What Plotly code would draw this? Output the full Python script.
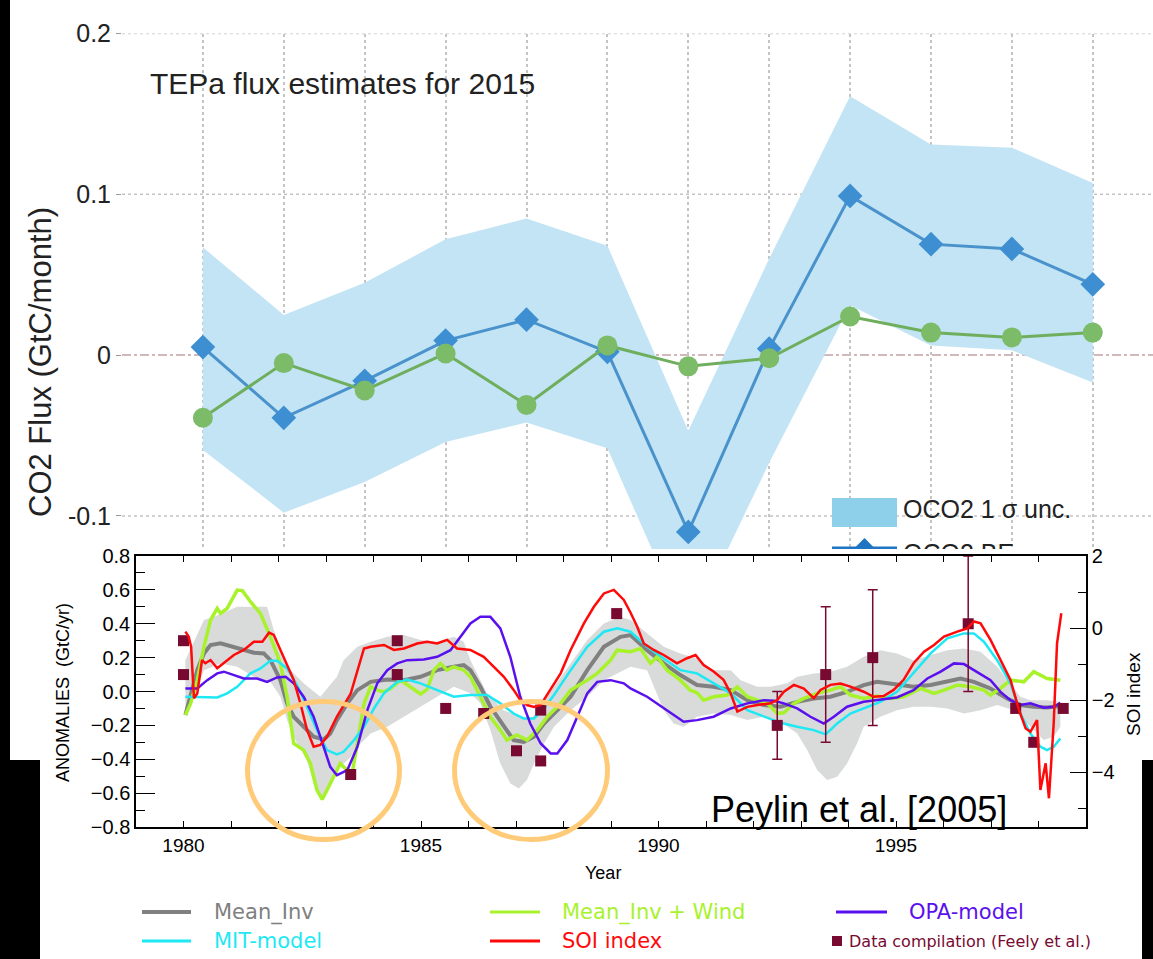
import plotly.graph_objects as go

W, H = 1153, 959

# ---------------- TEPa 2015 monthly flux (GtC/month) ----------------
months = list(range(1, 13))
oco2_be = [0.005, -0.039, -0.016, 0.009, 0.022, 0.002, -0.110, 0.004, 0.099, 0.069, 0.066, 0.044]
oco2_hi = [0.067, 0.025, 0.045, 0.072, 0.085, 0.068, -0.047, 0.060, 0.161, 0.131, 0.129, 0.107]
oco2_lo = [-0.059, -0.098, -0.079, -0.054, -0.042, -0.058, -0.172, -0.067, 0.031, 0.006, 0.003, -0.017]
second_flux = [-0.039, -0.005, -0.022, 0.001, -0.031, 0.006, -0.007, -0.002, 0.024, 0.014, 0.011, 0.014]
top_ticks = [-0.1, 0.0, 0.1, 0.2]
top_ticktext = ["-0.1", "0", "0.1", "0.2"]

# ---------------- Peylin et al. 2005 anomalies (GtC/yr) ----------------
band_hi_year = [1980.04, 1980.43, 1980.64, 1981.13, 1981.76, 1981.90, 1982.18, 1982.53, 1982.88, 1983.23,
                1983.37, 1983.66, 1983.94, 1984.29, 1984.64, 1984.99, 1985.34, 1985.69, 1985.90, 1986.04,
                1986.39, 1986.74, 1987.09, 1987.30, 1987.45, 1987.80, 1988.15, 1988.50, 1988.85, 1989.20,
                1989.41, 1989.76, 1990.11, 1990.46, 1990.81, 1991.16, 1991.52, 1991.73, 1992.08, 1992.36,
                1992.71, 1992.92, 1993.27, 1993.62, 1993.97, 1994.32, 1994.67, 1995.02, 1995.37, 1995.73,
                1996.08, 1996.43, 1996.78, 1997.13, 1997.34, 1997.62, 1997.83, 1998.18, 1998.46]
band_hi = [0.185, 0.422, 0.441, 0.500, 0.500, 0.363, 0.146, 0.048, -0.031, 0.087,
           0.185, 0.264, 0.294, 0.323, 0.333, 0.304, 0.294, 0.323, 0.294, 0.185,
           -0.011, -0.110, -0.149, -0.169, -0.110, 0.028, 0.166, 0.304, 0.402, 0.441,
           0.422, 0.343, 0.264, 0.225, 0.195, 0.126, 0.126, 0.067, 0.028, 0.028,
           0.048, 0.087, 0.107, 0.117, 0.146, 0.205, 0.244, 0.225, 0.185, 0.215,
           0.244, 0.254, 0.235, 0.146, 0.067, -0.031, -0.051, -0.051, -0.061]
band_lo_year = [1980.04, 1980.22, 1980.43, 1980.78, 1981.13, 1981.48, 1981.83, 1982.04, 1982.18, 1982.39,
                1982.60, 1982.74, 1982.92, 1983.09, 1983.30, 1983.52, 1983.73, 1983.94, 1984.29, 1984.64,
                1984.99, 1985.34, 1985.69, 1986.04, 1986.25, 1986.46, 1986.67, 1986.88, 1987.06, 1987.23,
                1987.38, 1987.59, 1987.80, 1988.15, 1988.50, 1988.85, 1989.41, 1989.76, 1990.11, 1990.32,
                1990.53, 1990.81, 1991.16, 1991.52, 1991.87, 1992.22, 1992.57, 1992.92, 1993.13, 1993.34,
                1993.55, 1993.76, 1993.97, 1994.18, 1994.32, 1994.67, 1995.02, 1995.37, 1995.73, 1996.08,
                1996.43, 1996.78, 1997.13, 1997.48, 1997.83, 1998.11, 1998.32, 1998.46]
band_lo = [-0.130, -0.031, 0.126, 0.166, 0.146, 0.087, 0.057, -0.031, -0.169, -0.307,
           -0.405, -0.543, -0.631, -0.543, -0.445, -0.386, -0.307, -0.248, -0.208, -0.149,
           -0.090, -0.031, 0.028, -0.011, -0.070, -0.228, -0.425, -0.543, -0.572, -0.523,
           -0.425, -0.307, -0.208, -0.110, -0.031, 0.067, 0.146, 0.126, -0.110, -0.189,
           -0.208, -0.149, -0.130, -0.139, -0.169, -0.149, -0.179, -0.248, -0.346, -0.464,
           -0.523, -0.503, -0.425, -0.307, -0.208, -0.149, -0.110, -0.090, -0.090, -0.100,
           -0.130, -0.110, -0.080, -0.110, -0.208, -0.287, -0.267, -0.208]

mean_inv_year = [1980.04, 1980.15, 1980.29, 1980.43, 1980.57, 1980.78, 1981.13, 1981.48, 1981.69, 1981.83,
                 1982.04, 1982.18, 1982.32, 1982.53, 1982.74, 1982.95, 1983.09, 1983.23, 1983.45, 1983.66,
                 1983.94, 1984.29, 1984.64, 1984.99, 1985.34, 1985.69, 1985.90, 1986.04, 1986.25, 1986.46,
                 1986.74, 1986.95, 1987.16, 1987.38, 1987.59, 1987.80, 1988.15, 1988.50, 1988.85, 1989.20,
                 1989.41, 1989.76, 1990.11, 1990.46, 1990.81, 1991.16, 1991.52, 1991.87, 1992.22, 1992.57,
                 1992.92, 1993.27, 1993.62, 1993.97, 1994.32, 1994.60, 1995.02, 1995.37, 1995.73, 1996.08,
                 1996.36, 1996.64, 1996.99, 1997.34, 1997.62, 1997.90, 1998.18, 1998.46]
mean_inv = [-0.139, -0.031, 0.126, 0.225, 0.274, 0.284, 0.254, 0.229, 0.225, 0.185,
            0.067, -0.070, -0.149, -0.208, -0.267, -0.283, -0.248, -0.169, -0.070, 0.008,
            0.057, 0.071, 0.067, 0.087, 0.126, 0.146, 0.156, 0.126, 0.028, -0.090,
            -0.208, -0.287, -0.297, -0.267, -0.189, -0.130, -0.031, 0.126, 0.264, 0.323,
            0.333, 0.244, 0.166, 0.097, 0.038, 0.028, 0.008, -0.051, -0.080, -0.090,
            -0.061, -0.041, -0.031, -0.002, 0.038, 0.057, 0.038, 0.028, 0.038, 0.057,
            0.077, 0.057, 0.018, -0.041, -0.080, -0.090, -0.094, -0.086]

wind_year = [1980.04, 1980.15, 1980.29, 1980.43, 1980.57, 1980.71, 1980.78, 1980.92, 1981.13, 1981.24,
             1981.41, 1981.62, 1981.83, 1982.04, 1982.18, 1982.32, 1982.53, 1982.67, 1982.81, 1982.92,
             1983.02, 1983.23, 1983.30, 1983.37, 1983.55, 1983.66, 1983.80, 1983.94, 1984.08, 1984.22,
             1984.36, 1984.57, 1984.78, 1984.99, 1985.13, 1985.27, 1985.41, 1985.55, 1985.69, 1985.90,
             1986.04, 1986.25, 1986.46, 1986.67, 1986.81, 1987.02, 1987.23, 1987.45, 1987.66, 1987.94,
             1988.15, 1988.50, 1988.71, 1988.85, 1988.99, 1989.13, 1989.41, 1989.62, 1989.83, 1989.97,
             1990.18, 1990.46, 1990.67, 1990.81, 1990.95, 1991.16, 1991.45, 1991.66, 1991.87, 1992.08,
             1992.29, 1992.50, 1992.64, 1992.85, 1993.06, 1993.34, 1993.62, 1993.83, 1994.04, 1994.32,
             1994.60, 1994.88, 1995.16, 1995.52, 1995.80, 1996.01, 1996.29, 1996.57, 1996.85, 1996.99,
             1997.20, 1997.41, 1997.69, 1997.90, 1998.18, 1998.46]
mean_inv_wind = [-0.139, -0.070, 0.067, 0.264, 0.422, 0.491, 0.461, 0.491, 0.599, 0.595,
                 0.530, 0.461, 0.323, 0.166, -0.031, -0.307, -0.346, -0.425, -0.582, -0.637,
                 -0.582, -0.464, -0.425, -0.445, -0.484, -0.307, -0.070, 0.028, 0.008, -0.002,
                 0.018, 0.067, 0.028, -0.015, 0.012, 0.126, 0.166, 0.126, 0.146, 0.126,
                 0.087, -0.031, -0.149, -0.228, -0.287, -0.257, -0.287, -0.228, -0.149, -0.070,
                 0.008, 0.067, 0.107, 0.146, 0.185, 0.244, 0.235, 0.254, 0.166, 0.205,
                 0.126, 0.067, 0.008, -0.007, -0.051, -0.031, -0.021, 0.028, -0.031, -0.051,
                 -0.070, -0.130, -0.126, -0.070, -0.041, -0.011, 0.008, 0.028, -0.021, -0.041,
                 -0.027, -0.041, -0.031, 0.018, -0.011, 0.008, 0.038, 0.028, 0.008, -0.021,
                 0.018, 0.067, 0.057, 0.117, 0.077, 0.067]

mit_year = [1980.04, 1980.43, 1980.71, 1980.92, 1981.13, 1981.41, 1981.62, 1981.83, 1981.97, 1982.18,
            1982.39, 1982.60, 1982.81, 1983.02, 1983.23, 1983.37, 1983.59, 1983.80, 1984.01, 1984.22,
            1984.50, 1984.71, 1984.99, 1985.34, 1985.69, 1986.04, 1986.39, 1986.67, 1986.95, 1987.16,
            1987.38, 1987.59, 1987.80, 1988.15, 1988.50, 1988.85, 1989.13, 1989.41, 1989.76, 1990.11,
            1990.46, 1990.81, 1991.16, 1991.52, 1991.87, 1992.22, 1992.57, 1992.92, 1993.27, 1993.52,
            1993.76, 1994.04, 1994.32, 1994.67, 1995.02, 1995.37, 1995.73, 1996.08, 1996.43, 1996.64,
            1996.85, 1997.13, 1997.41, 1997.62, 1997.83, 1998.04, 1998.18, 1998.32, 1998.46]
mit_model = [-0.031, -0.031, -0.035, -0.011, 0.028, 0.107, 0.136, 0.181, 0.181, 0.136,
             0.038, -0.090, -0.228, -0.346, -0.372, -0.356, -0.287, -0.208, -0.100, -0.011,
             0.057, 0.071, 0.048, 0.008, -0.031, -0.021, -0.021, -0.070, -0.130, -0.159,
             -0.159, -0.100, -0.021, 0.126, 0.264, 0.353, 0.373, 0.353, 0.264, 0.195,
             0.126, 0.107, 0.048, -0.011, -0.110, -0.149, -0.185, -0.208, -0.228, -0.253,
             -0.189, -0.130, -0.100, -0.061, -0.002, 0.107, 0.225, 0.314, 0.343, 0.343,
             0.294, 0.185, 0.048, -0.130, -0.248, -0.326, -0.346, -0.326, -0.277]

opa_year = [1980.04, 1980.29, 1980.50, 1980.71, 1980.85, 1981.06, 1981.27, 1981.55, 1981.76, 1981.97,
            1982.15, 1982.32, 1982.53, 1982.74, 1982.95, 1983.09, 1983.23, 1983.45, 1983.66, 1983.87,
            1984.08, 1984.29, 1984.50, 1984.71, 1985.06, 1985.34, 1985.62, 1985.83, 1986.04, 1986.25,
            1986.46, 1986.67, 1986.88, 1987.09, 1987.30, 1987.52, 1987.73, 1987.87, 1988.08, 1988.29,
            1988.50, 1988.71, 1988.99, 1989.27, 1989.41, 1989.76, 1990.11, 1990.53, 1990.81, 1991.16,
            1991.52, 1991.87, 1992.22, 1992.43, 1992.64, 1992.92, 1993.20, 1993.48, 1993.69, 1993.97,
            1994.32, 1994.67, 1995.02, 1995.37, 1995.66, 1995.94, 1996.22, 1996.43, 1996.71, 1996.99,
            1997.20, 1997.41, 1997.62, 1997.83, 1998.11, 1998.32, 1998.46]
opa_model = [0.018, 0.018, 0.067, 0.107, 0.117, 0.097, 0.077, 0.077, 0.057, 0.083,
             0.087, 0.048, -0.031, -0.149, -0.326, -0.445, -0.494, -0.464, -0.326, -0.110,
             0.048, 0.126, 0.166, 0.185, 0.189, 0.205, 0.244, 0.323, 0.402, 0.441,
             0.441, 0.373, 0.205, -0.031, -0.189, -0.307, -0.366, -0.366, -0.287, -0.149,
             -0.011, 0.057, 0.067, 0.048, 0.018, -0.031, -0.100, -0.179, -0.169, -0.149,
             -0.100, -0.070, -0.051, -0.055, -0.070, -0.100, -0.149, -0.189, -0.149, -0.090,
             -0.061, -0.047, -0.035, 0.008, 0.077, 0.117, 0.166, 0.162, 0.117, 0.067,
             -0.002, -0.051, -0.080, -0.070, -0.096, -0.090, -0.067]

soi_year = [1980.04, 1980.11, 1980.16, 1980.22, 1980.29, 1980.39, 1980.46, 1980.57, 1980.71, 1980.85,
            1981.06, 1981.27, 1981.48, 1981.66, 1981.80, 1981.90, 1982.11, 1982.32, 1982.46, 1982.60,
            1982.74, 1982.88, 1983.02, 1983.23, 1983.52, 1983.66, 1983.80, 1983.94, 1984.22, 1984.43,
            1984.64, 1984.92, 1985.13, 1985.34, 1985.55, 1985.76, 1986.04, 1986.32, 1986.53, 1986.74,
            1986.95, 1987.09, 1987.23, 1987.38, 1987.52, 1987.73, 1987.94, 1988.15, 1988.43, 1988.64,
            1988.85, 1989.06, 1989.27, 1989.41, 1989.55, 1989.69, 1989.90, 1990.11, 1990.39, 1990.60,
            1990.78, 1990.95, 1991.16, 1991.37, 1991.52, 1991.66, 1991.87, 1992.08, 1992.36, 1992.50,
            1992.64, 1992.85, 1993.06, 1993.27, 1993.41, 1993.62, 1993.83, 1994.04, 1994.32, 1994.53,
            1994.74, 1994.95, 1995.16, 1995.37, 1995.59, 1995.80, 1996.01, 1996.29, 1996.50, 1996.64,
            1996.78, 1996.99, 1997.20, 1997.41, 1997.59, 1997.73, 1997.83, 1997.97, 1998.04, 1998.15,
            1998.22, 1998.32, 1998.39, 1998.48]
soi_index = [-0.10, -0.24, -0.52, -1.95, -1.82, -0.89, -0.98, -0.89, -1.12, -0.98,
             -0.75, -0.61, -0.38, -0.38, -0.13, -0.19, -0.80, -1.44, -2.09, -2.83,
             -3.30, -3.25, -3.02, -2.46, -1.82, -1.17, -0.57, -0.52, -0.47, -0.61,
             -0.57, -0.43, -0.38, -0.43, -0.33, -0.57, -0.61, -0.80, -1.07, -1.35,
             -1.72, -2.00, -2.14, -2.19, -2.14, -1.68, -1.26, -0.61, 0.13, 0.59,
             0.96, 1.06, 0.78, 0.43, 0.04, -0.43, -0.61, -0.75, -0.98, -0.84,
             -0.75, -1.03, -1.21, -1.44, -1.82, -2.32, -2.19, -2.14, -2.09, -2.00,
             -1.77, -1.58, -1.68, -1.95, -1.72, -1.58, -1.54, -1.63, -1.77, -1.91,
             -1.89, -1.72, -1.44, -0.98, -0.66, -0.47, -0.24, -0.10, -0.01, 0.18,
             0.13, -0.33, -0.89, -1.44, -2.28, -2.79, -2.88, -2.56, -4.50, -3.76,
             -4.73, -2.65, -0.43, 0.41]

feely_year = [1980.0, 1980.0, 1983.52, 1984.5, 1984.5, 1985.52, 1986.32, 1987.01, 1987.52, 1987.52,
              1989.12, 1992.5, 1993.52, 1994.51, 1996.52, 1997.52, 1997.9, 1998.52]
feely_flux = [0.30, 0.10, -0.49, 0.30, 0.10, -0.10, -0.13, -0.35, -0.11, -0.41,
              0.46, -0.20, 0.10, 0.20, 0.40, -0.10, -0.30, -0.10]
feely_err = [0, 0, 0, 0, 0, 0, 0, 0, 0, 0,
             0, 0.20, 0.40, 0.40, 0.40, 0, 0, 0]

# ---------------- colours ----------------
C_BAND_TOP = "#c2e4f4"
C_BE = "#3d8fd2"
C_BE_LINE = "#4a92cb"
C_SECOND = "#7cbb68"
C_SECOND_LINE = "#6fae5c"
C_GREY_BAND = "#d9dada"
C_MEAN = "#808080"
C_WIND = "#a8f22c"
C_MIT = "#1ee8f4"
C_OPA = "#5a10ee"
C_SOI = "#ff0a0a"
C_FEELY = "#780a32"
C_RING = "#ffcb78"


def px(x):
    return x / W


def py(y):
    return 1 - y / H


fig = go.Figure()

# ---- upper panel: TEPa flux estimates ----
fig.add_trace(go.Scatter(
    x=months + months[::-1], y=oco2_hi + oco2_lo[::-1], fill="toself",
    fillcolor=C_BAND_TOP, line=dict(width=0), mode="lines",
    xaxis="x", yaxis="y", hoverinfo="skip", showlegend=False))
fig.add_trace(go.Scatter(
    x=months, y=oco2_be, mode="lines+markers",
    line=dict(color=C_BE_LINE, width=3),
    marker=dict(symbol="diamond", size=19, color=C_BE),
    xaxis="x", yaxis="y", showlegend=False))
fig.add_trace(go.Scatter(
    x=months, y=second_flux, mode="lines+markers",
    line=dict(color=C_SECOND_LINE, width=3),
    marker=dict(symbol="circle", size=20, color=C_SECOND),
    xaxis="x", yaxis="y", showlegend=False))

# key of the upper panel (the lower row is cut by the lower panel)
key_x0, key_x1, key_tx = 8.776, 9.580, 9.654
fig.add_shape(type="rect", xref="x", yref="y", x0=key_x0, x1=key_x1,
              y0=-0.1069, y1=-0.0889, fillcolor="#8ecfea", line=dict(width=0), layer="above")
fig.add_trace(go.Scatter(
    x=[key_x0, key_x1], y=[-0.1200, -0.1200], mode="lines",
    line=dict(color="#1f74c4", width=3), xaxis="x", yaxis="y",
    cliponaxis=True, showlegend=False, hoverinfo="skip"))
fig.add_trace(go.Scatter(
    x=[(key_x0 + key_x1) / 2], y=[-0.1215], mode="markers",
    marker=dict(symbol="diamond", size=19, color="#1f74c4"),
    xaxis="x", yaxis="y", cliponaxis=True, showlegend=False, hoverinfo="skip"))
fig.add_trace(go.Scatter(
    x=[key_tx, key_tx], y=[-0.0976, -0.1245], mode="text",
    text=["OCO2 1 σ unc.", "OCO2 BE"], textposition="middle right",
    textfont=dict(family="Liberation Sans", size=25, color="#222222"),
    xaxis="x", yaxis="y", cliponaxis=True, showlegend=False, hoverinfo="skip"))

# ---- lower panel: Peylin et al. anomalies ----
fig.add_trace(go.Scatter(
    x=band_hi_year + band_lo_year[::-1], y=band_hi + band_lo[::-1], fill="toself",
    fillcolor=C_GREY_BAND, line=dict(width=0), mode="lines",
    xaxis="x2", yaxis="y2", hoverinfo="skip", showlegend=False))
fig.add_trace(go.Scatter(x=mean_inv_year, y=mean_inv, mode="lines",
                         line=dict(color=C_MEAN, width=4), xaxis="x2", yaxis="y2", showlegend=False))
fig.add_trace(go.Scatter(x=wind_year, y=mean_inv_wind, mode="lines",
                         line=dict(color=C_WIND, width=3.5), xaxis="x2", yaxis="y2", showlegend=False))
fig.add_trace(go.Scatter(x=mit_year, y=mit_model, mode="lines",
                         line=dict(color=C_MIT, width=2.5), xaxis="x2", yaxis="y2", showlegend=False))
fig.add_trace(go.Scatter(x=opa_year, y=opa_model, mode="lines",
                         line=dict(color=C_OPA, width=2.5), xaxis="x2", yaxis="y2", showlegend=False))
fig.add_trace(go.Scatter(x=soi_year, y=soi_index, mode="lines",
                         line=dict(color=C_SOI, width=2.5), xaxis="x2", yaxis="y3", showlegend=False))

err_idx = [i for i, e in enumerate(feely_err) if e > 0]
fig.add_trace(go.Scatter(
    x=[feely_year[i] for i in err_idx], y=[feely_flux[i] for i in err_idx], mode="markers",
    marker=dict(size=1, color="rgba(0,0,0,0)"),
    error_y=dict(type="data", array=[feely_err[i] for i in err_idx], visible=True,
                 color=C_FEELY, thickness=1.5, width=5),
    xaxis="x2", yaxis="y2", showlegend=False, hoverinfo="skip"))
fig.add_trace(go.Scatter(
    x=feely_year, y=feely_flux, mode="markers",
    marker=dict(symbol="square", size=11, color=C_FEELY),
    xaxis="x2", yaxis="y2", showlegend=False))

# ---------------- shapes: black page border, grids, rings, key ----------------
shapes = []
for x0, x1, y0, y1 in [(0, 1153, 0, 4), (0, 10, 0, 760), (0, 40, 760, 959), (1142, 1153, 760, 959)]:
    shapes.append(dict(type="rect", xref="paper", yref="paper", x0=px(x0), x1=px(x1),
                       y0=py(y1), y1=py(y0), fillcolor="black", line=dict(width=0), layer="above"))
for g in [0.2, 0.1, -0.1]:
    shapes.append(dict(type="line", xref="x domain", yref="y", x0=0, x1=1, y0=g, y1=g,
                       line=dict(color="#c4c4c4", width=1.5, dash="dot"), layer="below"))
shapes.append(dict(type="line", xref="x domain", yref="y", x0=0, x1=1, y0=0, y1=0,
                   line=dict(color="#c2a3a3", width=1.5, dash="dashdot"), layer="below"))

for x0, x1 in [(247.5, 399.5), (454.5, 607.5)]:
    shapes.append(dict(type="circle", xref="paper", yref="paper",
                       x0=px(x0), x1=px(x1), y0=py(839.5), y1=py(701.5),
                       line=dict(color=C_RING, width=5), layer="above"))

annotations = []


def key_line(x0, x1, y, color, width):
    shapes.append(dict(type="line", xref="paper", yref="paper", x0=px(x0), x1=px(x1),
                       y0=py(y), y1=py(y), line=dict(color=color, width=width)))


def key_text(x, y, text, color, size=21):
    annotations.append(dict(xref="paper", yref="paper", x=px(x), y=py(y), text=text,
                            showarrow=False, xanchor="left", yanchor="middle",
                            font=dict(family="DejaVu Sans", size=size, color=color)))


row1, row2 = 912, 941
key_line(142, 191, row1, C_MEAN, 4)
key_text(212, row1, "Mean_Inv", C_MEAN)
key_line(490, 540, row1, C_WIND, 3)
key_text(560, row1, "Mean_Inv + Wind", C_WIND)
key_line(836, 887, row1, C_OPA, 3)
key_text(907, row1, "OPA-model", C_OPA)
key_line(142, 191, row2, C_MIT, 3)
key_text(212, row2, "MIT-model", C_MIT)
key_line(490, 540, row2, C_SOI, 3)
key_text(560, row2, "SOI index", C_SOI)
shapes.append(dict(type="rect", xref="paper", yref="paper", x0=px(832), x1=px(842),
                   y0=py(row2 + 5), y1=py(row2 - 5), fillcolor=C_FEELY, line=dict(width=0)))
key_text(847, row2, "Data compilation (Feely et al.)", C_FEELY, size=16)

# titles and labels
annotations += [
    dict(xref="paper", yref="paper", x=px(148), y=py(83), text="TEPa flux estimates for 2015",
         showarrow=False, xanchor="left", yanchor="middle",
         font=dict(family="Liberation Sans", size=30, color="#222222")),
    dict(xref="paper", yref="paper", x=px(40), y=py(362), text="CO2 Flux (GtC/month)",
         showarrow=False, textangle=-90, xanchor="center", yanchor="middle",
         font=dict(family="Liberation Sans", size=31, color="#222222")),
    dict(xref="paper", yref="paper", x=px(63), y=py(693), text="ANOMALIES  (GtC/yr)",
         showarrow=False, textangle=-90, xanchor="center", yanchor="middle",
         font=dict(family="Liberation Sans", size=18, color="black")),
    dict(xref="paper", yref="paper", x=px(1133), y=py(694), text="SOI index",
         showarrow=False, textangle=-90, xanchor="center", yanchor="middle",
         font=dict(family="Liberation Sans", size=19, color="black")),
    dict(xref="paper", yref="paper", x=px(603), y=py(873), text="Year",
         showarrow=False, xanchor="center", yanchor="middle",
         font=dict(family="Liberation Sans", size=18, color="black")),
    dict(xref="paper", yref="paper", x=px(859), y=py(809), text="Peylin et al. [2005]",
         showarrow=False, xanchor="center", yanchor="middle",
         font=dict(family="Liberation Sans", size=36, color="black")),
]

tick_font = dict(family="Liberation Sans", size=20, color="black")

fig.update_layout(
    width=W, height=H,
    margin=dict(l=0, r=0, t=0, b=0, pad=0, autoexpand=False),
    paper_bgcolor="white", plot_bgcolor="rgba(0,0,0,0)",
    showlegend=False,
    shapes=shapes, annotations=annotations,
    xaxis=dict(domain=[px(122), 1.0], range=[0, (1153 - 122) / 80.9],
               tickmode="array", tickvals=list(range(0, 13)), showticklabels=False,
               ticks="", showgrid=True, gridcolor="#c4c4c4", griddash="dot", gridwidth=1.5,
               zeroline=False, showline=False, anchor="y", automargin=False),
    yaxis=dict(domain=[py(549), py(33.5)], range=[-0.1206, 0.2],
               tickmode="array", tickvals=top_ticks, ticktext=top_ticktext,
               ticks="outside", ticklen=5, tickcolor="#9a9a9a",
               tickfont=dict(family="Liberation Sans", size=25, color="#222222"),
               showgrid=False, zeroline=False, showline=False, anchor="x", automargin=False),
    xaxis2=dict(domain=[px(136), px(1086)], range=[1979, 1999],
                tickmode="linear", tick0=1980, dtick=5,
                ticks="inside", ticklen=6, tickcolor="black", tickwidth=1,
                minor=dict(tick0=1979, dtick=1, ticks="inside", ticklen=6, tickcolor="black"),
                showline=True, linecolor="black", linewidth=1.5, mirror="ticks",
                showgrid=False, zeroline=False, anchor="y2", automargin=False,
                tickfont=dict(family="Liberation Sans", size=19, color="black")),
    yaxis2=dict(domain=[py(827), py(556)], range=[-0.8, 0.8],
                tickmode="linear", tick0=-0.8, dtick=0.2, tickformat=".1f",
                ticks="inside", ticklen=19, tickcolor="black",
                minor=dict(dtick=0.1, ticks="inside", ticklen=9, tickcolor="black"),
                showline=True, linecolor="black", linewidth=1.5, automargin=False,
                showgrid=False, zeroline=False, anchor="x2", tickfont=tick_font),
    yaxis3=dict(range=[2 - 271 / 36, 2], overlaying="y2", side="right", anchor="x2",
                tickmode="array", tickvals=[-4, -2, 0, 2],
                ticks="inside", ticklen=16, tickcolor="black",
                minor=dict(tickvals=[-5, -3, -1, 1], ticks="inside", ticklen=8, tickcolor="black"),
                showline=True, linecolor="black", linewidth=1.5, automargin=False,
                showgrid=False, zeroline=False, tickfont=tick_font),
)

fig.write_html("out.html")
